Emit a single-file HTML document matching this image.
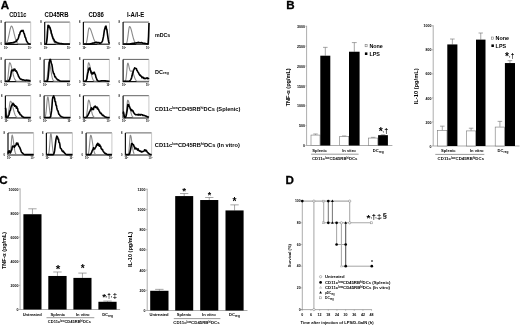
<!DOCTYPE html>
<html><head><meta charset="utf-8"><title>Figure</title>
<style>
html,body{margin:0;padding:0;background:#fff;}
body{width:520px;height:326px;overflow:hidden;}
svg{display:block;}
text{font-family:"Liberation Sans",Arial,sans-serif;fill:#000;}
.b{font-weight:bold;}
.pl{font-weight:bold;stroke:#000;stroke-width:0.3px;}
.t{font-weight:bold;fill:#000;}
</style></head>
<body>
<svg width="520" height="326" viewBox="0 0 520 326">
<rect width="520" height="326" fill="#fff"/>
<g id="A">
<text x="0.75" y="8.8" class="pl" font-size="11.6">A</text>
<text x="9.2" y="17.4" class="b" font-size="6.4" textLength="17.2" lengthAdjust="spacingAndGlyphs">CD11c</text>
<text x="44.6" y="17.4" class="b" font-size="6.4" textLength="23.9" lengthAdjust="spacingAndGlyphs">CD45RB</text>
<text x="88.5" y="17.4" class="b" font-size="6.4" textLength="15.3" lengthAdjust="spacingAndGlyphs">CD86</text>
<text x="126.9" y="17.4" class="b" font-size="6.4" textLength="17.4" lengthAdjust="spacingAndGlyphs">I-A/I-E</text>
<path d="M5.1 22.1H30.7" fill="none" stroke="#3a3a3a" stroke-width="0.8"/>
<path d="M30.7 22.1V44.3" fill="none" stroke="#bbb" stroke-width="0.8"/>
<path d="M5.1 22.1V44.3H30.7" fill="none" stroke="#111" stroke-width="1.2"/>
<path d="M5.1 43.97L5.42 43.93L5.74 43.75L6.06 43.5L6.38 43.16L6.7 42.7L7.02 42.11L7.34 41.37L7.66 40.46L7.98 39.38L8.3 38.13L8.62 36.72L8.94 35.19L9.26 33.58L9.58 31.97L9.9 30.41L10.22 28.99L10.54 27.78L10.86 26.87L11.18 26.29L11.5 26.1L11.82 26.24L12.14 26.66L12.46 27.33L12.78 28.24L13.1 29.33L13.42 30.56L13.74 31.89L14.06 33.26L14.38 34.63L14.7 35.97L15.02 37.23L15.34 38.39L15.66 39.44L15.98 40.36L16.3 41.16L16.62 41.84L16.94 42.4L17.26 42.85L17.58 43.22L17.9 43.5L18.22 43.72L18.54 43.89L18.86 43.97L19.18 43.97L19.5 43.97L19.82 43.97L20.14 43.97L20.46 43.97L20.78 43.97L21.1 43.97L21.42 43.97L21.74 43.97L22.06 43.97L22.38 43.97L22.7 43.97L23.02 43.97L23.34 43.97L23.66 43.97L23.98 43.97L24.3 43.97L24.62 43.97L24.94 43.97L25.26 43.97L25.58 43.97L25.9 43.97L26.22 43.97L26.54 43.97L26.86 43.97L27.18 43.97L27.5 43.97L27.82 43.97L28.14 43.97L28.46 43.97L28.78 43.97L29.1 43.97L29.42 43.97L29.74 43.97L30.06 43.97L30.38 43.97L30.7 43.97" fill="none" stroke="#8a8a8a" stroke-width="1.1" stroke-linejoin="round"/>
<path d="M5.1 43.8L5.53 43.73L5.95 43.66L6.38 43.59L6.81 43.51L7.23 43.44L7.66 43.41L8.09 43.39L8.51 43.15L8.94 43.28L9.37 43.04L9.79 43.04L10.22 43.1L10.65 42.86L11.07 43.02L11.5 42.79L11.93 42.92L12.35 42.87L12.78 42.66L13.21 42.4L13.63 42.71L14.06 42.58L14.49 42.23L14.91 41.86L15.34 41.87L15.77 41.7L16.19 40.78L16.62 41.2L17.05 39.63L17.47 39.64L17.9 39.08L18.33 38.25L18.75 36.83L19.18 34.59L19.61 34.88L20.03 32.91L20.46 31.8L20.89 31.54L21.31 30.5L21.74 31.16L22.17 31L22.59 30.81L23.02 30.27L23.45 31.69L23.87 33.06L24.3 33.78L24.73 35.49L25.15 37.26L25.58 37.65L26.01 39.16L26.43 40.84L26.86 41.42L27.29 42.23L27.71 42.68L28.14 43.22L28.57 43.62L28.99 43.86L29.42 43.97L29.85 43.97L30.27 43.97L30.7 43.97" fill="none" stroke="#000" stroke-width="1.6" stroke-linejoin="round"/>
<text x="0.6" y="23.1" class="t" font-size="2.6">8</text>
<text x="0.6" y="45.3" class="t" font-size="2.6">0</text>
<text x="4.1" y="48.5" class="t" font-size="2.6">10<tspan font-size="1.8" dy="-1">0</tspan></text>
<text x="27.7" y="48.5" class="t" font-size="2.6">10<tspan font-size="1.8" dy="-1">4</tspan></text>
<path d="M44.7 22.1H69.9" fill="none" stroke="#3a3a3a" stroke-width="0.8"/>
<path d="M69.9 22.1V44.3" fill="none" stroke="#bbb" stroke-width="0.8"/>
<path d="M44.7 22.1V44.3H69.9" fill="none" stroke="#111" stroke-width="1.2"/>
<path d="M44.7 43.97L45.02 43.97L45.33 43.97L45.65 43.97L45.96 43.76L46.28 42.8L46.59 40.79L46.91 37.38L47.22 32.85L47.54 28.38L47.85 25.69L48.17 25.47L48.48 25.69L48.8 26.11L49.11 26.71L49.43 27.48L49.74 28.38L50.06 29.4L50.37 30.51L50.69 31.67L51 32.85L51.32 34.04L51.63 35.21L51.95 36.33L52.26 37.38L52.58 38.36L52.89 39.26L53.21 40.07L53.52 40.79L53.84 41.41L54.15 41.95L54.47 42.41L54.78 42.8L55.1 43.12L55.41 43.38L55.73 43.59L56.04 43.76L56.36 43.89L56.67 43.97L56.99 43.97L57.3 43.97L57.62 43.97L57.93 43.97L58.25 43.97L58.56 43.97L58.88 43.97L59.19 43.97L59.51 43.97L59.82 43.97L60.14 43.97L60.45 43.97L60.77 43.97L61.08 43.97L61.4 43.97L61.71 43.97L62.03 43.97L62.34 43.97L62.66 43.97L62.97 43.97L63.29 43.97L63.6 43.97L63.92 43.97L64.23 43.97L64.55 43.97L64.86 43.97L65.18 43.97L65.49 43.97L65.81 43.97L66.12 43.97L66.44 43.97L66.75 43.97L67.06 43.97L67.38 43.97L67.7 43.97L68.01 43.97L68.33 43.97L68.64 43.97L68.96 43.97L69.27 43.97L69.59 43.97L69.9 43.97" fill="none" stroke="#8a8a8a" stroke-width="1.1" stroke-linejoin="round"/>
<path d="M44.7 43.97L45.12 43.97L45.54 43.97L45.96 43.97L46.38 43.3L46.8 40.52L47.22 37.27L47.64 30.44L48.06 25.22L48.48 26.11L48.9 25.71L49.32 27.41L49.74 27.01L50.16 28.04L50.58 29.88L51 30.72L51.42 33.5L51.84 34.14L52.26 35.76L52.68 37.07L53.1 38.43L53.52 38.8L53.94 39.55L54.36 40.8L54.78 41.15L55.2 42.06L55.62 41.91L56.04 42.21L56.46 42.23L56.88 42.5L57.3 42.89L57.72 42.95L58.14 42.94L58.56 43.27L58.98 43.2L59.4 43.37L59.82 43.46L60.24 43.43L60.66 43.51L61.08 43.59L61.5 43.66L61.92 43.73L62.34 43.8L62.76 43.86L63.18 43.91L63.6 43.96L64.02 43.97L64.44 43.97L64.86 43.97L65.28 43.97L65.7 43.97L66.12 43.97L66.54 43.97L66.96 43.97L67.38 43.97L67.8 43.97L68.22 43.97L68.64 43.97L69.06 43.97L69.48 43.97L69.9 43.97" fill="none" stroke="#000" stroke-width="1.6" stroke-linejoin="round"/>
<text x="40.2" y="23.1" class="t" font-size="2.6">8</text>
<text x="40.2" y="45.3" class="t" font-size="2.6">0</text>
<text x="43.7" y="48.5" class="t" font-size="2.6">10<tspan font-size="1.8" dy="-1">0</tspan></text>
<text x="66.9" y="48.5" class="t" font-size="2.6">10<tspan font-size="1.8" dy="-1">4</tspan></text>
<path d="M83.4 22.1H109.5" fill="none" stroke="#3a3a3a" stroke-width="0.8"/>
<path d="M109.5 22.1V44.3" fill="none" stroke="#bbb" stroke-width="0.8"/>
<path d="M83.4 22.1V44.3H109.5" fill="none" stroke="#111" stroke-width="1.2"/>
<path d="M83.4 43.97L83.73 43.97L84.05 43.97L84.38 43.97L84.71 43.97L85.03 43.97L85.36 43.97L85.68 43.81L86.01 43.38L86.34 42.67L86.66 41.6L86.99 40.09L87.31 38.13L87.64 35.82L87.97 33.34L88.29 31L88.62 29.14L88.95 28.06L89.27 27.89L89.6 28.05L89.93 28.38L90.25 28.87L90.58 29.51L90.9 30.28L91.23 31.15L91.56 32.09L91.88 33.1L92.21 34.13L92.53 35.16L92.86 36.18L93.19 37.17L93.51 38.1L93.84 38.97L94.17 39.76L94.49 40.48L94.82 41.12L95.15 41.68L95.47 42.17L95.8 42.58L96.12 42.93L96.45 43.22L96.78 43.46L97.1 43.65L97.43 43.8L97.76 43.93L98.08 43.97L98.41 43.97L98.73 43.97L99.06 43.97L99.39 43.97L99.71 43.97L100.04 43.97L100.37 43.97L100.69 43.97L101.02 43.97L101.34 43.97L101.67 43.97L102 43.97L102.32 43.97L102.65 43.97L102.97 43.97L103.3 43.97L103.63 43.97L103.95 43.97L104.28 43.97L104.61 43.97L104.93 43.97L105.26 43.97L105.59 43.97L105.91 43.97L106.24 43.97L106.56 43.97L106.89 43.97L107.22 43.97L107.54 43.97L107.87 43.97L108.19 43.97L108.52 43.97L108.85 43.97L109.17 43.97L109.5 43.97" fill="none" stroke="#8a8a8a" stroke-width="1.1" stroke-linejoin="round"/>
<path d="M83.4 43.97L83.84 43.97L84.27 43.97L84.71 43.97L85.14 43.97L85.58 43.97L86.01 43.97L86.45 43.97L86.88 43.97L87.31 43.97L87.75 43.97L88.19 43.97L88.62 43.97L89.06 43.97L89.49 43.93L89.93 43.86L90.36 43.77L90.8 43.67L91.23 43.57L91.67 43.46L92.1 43.47L92.53 43.14L92.97 43.24L93.41 43.09L93.84 42.92L94.28 42.61L94.71 42.89L95.15 42.65L95.58 42.54L96.02 42.33L96.45 42.35L96.89 42.34L97.32 42.68L97.76 42.66L98.19 42.76L98.62 42.59L99.06 42.66L99.5 43.09L99.93 43.14L100.37 43.13L100.8 43.06L101.23 42.73L101.67 42.21L102.11 41.69L102.54 40.91L102.97 38.83L103.41 36.92L103.84 34.11L104.28 30.75L104.72 29.02L105.15 27.6L105.59 26.34L106.02 26.19L106.45 28.99L106.89 29.73L107.33 33.2L107.76 36.15L108.19 39.21L108.63 41.67L109.06 42.9L109.5 43.6" fill="none" stroke="#000" stroke-width="1.6" stroke-linejoin="round"/>
<text x="78.9" y="23.1" class="t" font-size="2.6">8</text>
<text x="78.9" y="45.3" class="t" font-size="2.6">0</text>
<text x="82.4" y="48.5" class="t" font-size="2.6">10<tspan font-size="1.8" dy="-1">0</tspan></text>
<text x="106.5" y="48.5" class="t" font-size="2.6">10<tspan font-size="1.8" dy="-1">4</tspan></text>
<path d="M123.1 22.1H149" fill="none" stroke="#3a3a3a" stroke-width="0.8"/>
<path d="M149 22.1V44.3" fill="none" stroke="#bbb" stroke-width="0.8"/>
<path d="M123.1 22.1V44.3H149" fill="none" stroke="#111" stroke-width="1.2"/>
<path d="M123.1 43.97L123.42 43.97L123.75 43.97L124.07 43.97L124.39 43.97L124.72 43.97L125.04 43.97L125.37 43.97L125.69 43.97L126.01 43.9L126.34 43.52L126.66 42.89L126.98 41.9L127.31 40.46L127.63 38.53L127.96 36.17L128.28 33.53L128.6 30.89L128.93 28.63L129.25 27.09L129.57 26.54L129.9 26.68L130.22 27.09L130.55 27.75L130.87 28.63L131.19 29.69L131.52 30.89L131.84 32.19L132.16 33.53L132.49 34.87L132.81 36.17L133.14 37.4L133.46 38.53L133.78 39.56L134.11 40.46L134.43 41.24L134.75 41.9L135.08 42.44L135.4 42.89L135.73 43.24L136.05 43.52L136.37 43.73L136.7 43.9L137.02 43.97L137.34 43.97L137.67 43.97L137.99 43.97L138.32 43.97L138.64 43.97L138.96 43.97L139.29 43.97L139.61 43.97L139.94 43.97L140.26 43.97L140.58 43.97L140.91 43.97L141.23 43.97L141.55 43.97L141.88 43.97L142.2 43.97L142.53 43.97L142.85 43.97L143.17 43.97L143.5 43.97L143.82 43.97L144.14 43.97L144.47 43.97L144.79 43.97L145.12 43.97L145.44 43.97L145.76 43.97L146.09 43.97L146.41 43.97L146.73 43.97L147.06 43.97L147.38 43.97L147.7 43.97L148.03 43.97L148.35 43.97L148.68 43.97L149 43.97" fill="none" stroke="#8a8a8a" stroke-width="1.1" stroke-linejoin="round"/>
<path d="M123.1 43.97L123.53 43.97L123.96 43.97L124.39 43.97L124.83 43.97L125.26 43.97L125.69 43.97L126.12 43.97L126.55 43.97L126.98 43.97L127.42 43.97L127.85 43.97L128.28 43.97L128.71 43.97L129.14 43.97L129.57 43.92L130.01 43.86L130.44 43.79L130.87 43.72L131.3 43.65L131.73 43.57L132.16 43.49L132.6 43.51L133.03 43.27L133.46 43.36L133.89 43.28L134.32 43.15L134.75 43.1L135.19 42.95L135.62 43L136.05 42.97L136.48 42.84L136.91 42.82L137.34 42.65L137.78 42.8L138.21 42.33L138.64 42.46L139.07 42.72L139.5 42.68L139.94 42.66L140.37 42.69L140.8 42.86L141.23 42.57L141.66 42.58L142.09 42.89L142.53 42.97L142.96 43.2L143.39 43.27L143.82 43.27L144.25 43.38L144.68 43.31L145.12 43.49L145.55 43.57L145.98 43.65L146.41 43.72L146.84 43.79L147.27 43.86L147.7 43.91L148.14 43.5L148.57 36.31L149 22.92" fill="none" stroke="#000" stroke-width="1.6" stroke-linejoin="round"/>
<text x="118.6" y="23.1" class="t" font-size="2.6">8</text>
<text x="118.6" y="45.3" class="t" font-size="2.6">0</text>
<text x="122.1" y="48.5" class="t" font-size="2.6">10<tspan font-size="1.8" dy="-1">0</tspan></text>
<text x="146" y="48.5" class="t" font-size="2.6">10<tspan font-size="1.8" dy="-1">4</tspan></text>
<path d="M5.1 59.4H30.5" fill="none" stroke="#3a3a3a" stroke-width="0.8"/>
<path d="M30.5 59.4V81.6" fill="none" stroke="#bbb" stroke-width="0.8"/>
<path d="M5.1 59.4V81.6H30.5" fill="none" stroke="#111" stroke-width="1.2"/>
<path d="M5.1 81.27L5.42 81.27L5.73 81.27L6.05 81.27L6.37 81.27L6.69 81.27L7 81L7.32 80.3L7.64 79.05L7.96 77.06L8.27 74.27L8.59 70.87L8.91 67.36L9.23 64.45L9.54 62.88L9.86 62.78L10.18 63.1L10.5 63.7L10.81 64.55L11.13 65.61L11.45 66.83L11.77 68.17L12.09 69.58L12.4 71.01L12.72 72.41L13.04 73.76L13.35 75L13.67 76.14L13.99 77.15L14.31 78.03L14.62 78.78L14.94 79.41L15.26 79.92L15.58 80.34L15.89 80.66L16.21 80.91L16.53 81.11L16.85 81.25L17.16 81.27L17.48 81.27L17.8 81.27L18.12 81.27L18.43 81.27L18.75 81.27L19.07 81.27L19.39 81.27L19.7 81.27L20.02 81.27L20.34 81.27L20.66 81.27L20.98 81.27L21.29 81.27L21.61 81.27L21.93 81.27L22.24 81.27L22.56 81.27L22.88 81.27L23.2 81.27L23.52 81.27L23.83 81.27L24.15 81.27L24.47 81.27L24.78 81.27L25.1 81.27L25.42 81.27L25.74 81.27L26.05 81.27L26.37 81.27L26.69 81.27L27.01 81.27L27.32 81.27L27.64 81.27L27.96 81.27L28.28 81.27L28.59 81.27L28.91 81.27L29.23 81.27L29.55 81.27L29.86 81.27L30.18 81.27L30.5 81.27" fill="none" stroke="#8a8a8a" stroke-width="1.1" stroke-linejoin="round"/>
<path d="M5.1 81.27L5.52 81.27L5.95 81.27L6.37 81.27L6.79 81.27L7.22 81.27L7.64 81.27L8.06 81.27L8.49 81.06L8.91 80.44L9.33 79.79L9.76 78.99L10.18 77.14L10.6 76.33L11.03 73.59L11.45 70.98L11.87 70.1L12.3 69.97L12.72 70.73L13.14 70.35L13.57 70.66L13.99 69.18L14.41 69.59L14.84 69.06L15.26 70.31L15.68 71.16L16.11 70.75L16.53 71.27L16.95 72.44L17.38 73.4L17.8 74.25L18.22 75.22L18.65 76.79L19.07 76.98L19.49 77.77L19.92 78.61L20.34 79L20.76 79.12L21.19 79.44L21.61 79.4L22.03 79.46L22.46 79.9L22.88 79.77L23.3 79.84L23.73 79.92L24.15 80.22L24.57 80.3L25 80.32L25.42 80.35L25.84 80.36L26.27 80.22L26.69 80.14L27.11 80.2L27.54 80.38L27.96 80.37L28.38 80.37L28.81 80.67L29.23 80.55L29.65 80.54L30.08 80.72L30.5 80.79" fill="none" stroke="#000" stroke-width="1.6" stroke-linejoin="round"/>
<text x="0.6" y="60.4" class="t" font-size="2.6">8</text>
<text x="0.6" y="82.6" class="t" font-size="2.6">0</text>
<text x="4.1" y="85.8" class="t" font-size="2.6">10<tspan font-size="1.8" dy="-1">0</tspan></text>
<text x="27.5" y="85.8" class="t" font-size="2.6">10<tspan font-size="1.8" dy="-1">4</tspan></text>
<path d="M44.1 59.4H69.9" fill="none" stroke="#3a3a3a" stroke-width="0.8"/>
<path d="M69.9 59.4V81.6" fill="none" stroke="#bbb" stroke-width="0.8"/>
<path d="M44.1 59.4V81.6H69.9" fill="none" stroke="#111" stroke-width="1.2"/>
<path d="M44.1 81.27L44.42 81.27L44.75 81.27L45.07 81.27L45.39 81.27L45.71 81.27L46.04 81.27L46.36 80.87L46.68 80.05L47 78.61L47.33 76.38L47.65 73.34L47.97 69.75L48.29 66.18L48.62 63.39L48.94 62.1L49.26 62.26L49.58 63.05L49.91 64.36L50.23 66.08L50.55 68.07L50.87 70.17L51.2 72.25L51.52 74.19L51.84 75.92L52.16 77.38L52.48 78.56L52.81 79.48L53.13 80.17L53.45 80.66L53.78 81.01L54.1 81.24L54.42 81.27L54.74 81.27L55.07 81.27L55.39 81.27L55.71 81.27L56.03 81.27L56.36 81.27L56.68 81.27L57 81.27L57.32 81.27L57.65 81.27L57.97 81.27L58.29 81.27L58.61 81.27L58.94 81.27L59.26 81.27L59.58 81.27L59.9 81.27L60.23 81.27L60.55 81.27L60.87 81.27L61.19 81.27L61.52 81.27L61.84 81.27L62.16 81.27L62.48 81.27L62.81 81.27L63.13 81.27L63.45 81.27L63.77 81.27L64.09 81.27L64.42 81.27L64.74 81.27L65.06 81.27L65.39 81.27L65.71 81.27L66.03 81.27L66.35 81.27L66.68 81.27L67 81.27L67.32 81.27L67.64 81.27L67.97 81.27L68.29 81.27L68.61 81.27L68.93 81.27L69.26 81.27L69.58 81.27L69.9 81.27" fill="none" stroke="#8a8a8a" stroke-width="1.1" stroke-linejoin="round"/>
<path d="M44.1 81.27L44.53 81.27L44.96 81.27L45.39 81.27L45.82 81.27L46.25 81.27L46.68 81.27L47.11 81.27L47.54 80.43L47.97 78.37L48.4 74.82L48.83 69.81L49.26 62.59L49.69 60.36L50.12 59.4L50.55 59.52L50.98 62.03L51.41 63.67L51.84 64.38L52.27 66.9L52.7 70.12L53.13 72.06L53.56 73.63L53.99 73.36L54.42 74.85L54.85 76.92L55.28 76.69L55.71 77.19L56.14 78.1L56.57 78.82L57 79.04L57.43 79.67L57.86 80.02L58.29 79.83L58.72 80.26L59.15 80.55L59.58 80.77L60.01 80.95L60.44 81.1L60.87 81.22L61.3 81.27L61.73 81.27L62.16 81.27L62.59 81.27L63.02 81.27L63.45 81.27L63.88 81.27L64.31 81.27L64.74 81.27L65.17 81.27L65.6 81.27L66.03 81.27L66.46 81.27L66.89 81.27L67.32 81.27L67.75 81.27L68.18 81.27L68.61 81.27L69.04 81.27L69.47 81.27L69.9 81.27" fill="none" stroke="#000" stroke-width="1.6" stroke-linejoin="round"/>
<text x="39.6" y="60.4" class="t" font-size="2.6">8</text>
<text x="39.6" y="82.6" class="t" font-size="2.6">0</text>
<text x="43.1" y="85.8" class="t" font-size="2.6">10<tspan font-size="1.8" dy="-1">0</tspan></text>
<text x="66.9" y="85.8" class="t" font-size="2.6">10<tspan font-size="1.8" dy="-1">4</tspan></text>
<path d="M83.4 59.4H109.4" fill="none" stroke="#3a3a3a" stroke-width="0.8"/>
<path d="M109.4 59.4V81.6" fill="none" stroke="#bbb" stroke-width="0.8"/>
<path d="M83.4 59.4V81.6H109.4" fill="none" stroke="#111" stroke-width="1.2"/>
<path d="M83.4 81.27L83.73 81.27L84.05 81.27L84.38 81.27L84.7 81.27L85.03 81.27L85.35 81.27L85.68 81.24L86 80.77L86.33 79.88L86.65 78.35L86.98 76.03L87.3 72.96L87.62 69.44L87.95 66.08L88.28 63.63L88.6 62.73L88.93 62.96L89.25 63.63L89.58 64.69L89.9 66.08L90.23 67.69L90.55 69.44L90.88 71.22L91.2 72.96L91.53 74.58L91.85 76.03L92.18 77.29L92.5 78.35L92.83 79.2L93.15 79.88L93.48 80.39L93.8 80.77L94.12 81.05L94.45 81.24L94.78 81.27L95.1 81.27L95.43 81.27L95.75 81.27L96.08 81.27L96.4 81.27L96.73 81.27L97.05 81.27L97.38 81.27L97.7 81.27L98.03 81.27L98.35 81.27L98.68 81.27L99 81.27L99.33 81.27L99.65 81.27L99.98 81.27L100.3 81.27L100.62 81.27L100.95 81.27L101.28 81.27L101.6 81.27L101.93 81.27L102.25 81.27L102.58 81.27L102.9 81.27L103.23 81.27L103.55 81.27L103.88 81.27L104.2 81.27L104.53 81.27L104.85 81.27L105.18 81.27L105.5 81.27L105.83 81.27L106.15 81.27L106.48 81.27L106.8 81.27L107.12 81.27L107.45 81.27L107.78 81.27L108.1 81.27L108.43 81.27L108.75 81.27L109.08 81.27L109.4 81.27" fill="none" stroke="#8a8a8a" stroke-width="1.1" stroke-linejoin="round"/>
<path d="M83.4 81.27L83.83 81.27L84.27 81.27L84.7 81.27L85.13 81.27L85.57 81.26L86 80.83L86.43 79.78L86.87 78.65L87.3 75.98L87.73 73.25L88.17 71.89L88.6 69.51L89.03 68.14L89.47 68.14L89.9 68.06L90.33 70.02L90.77 71.09L91.2 73.02L91.63 72.23L92.07 73.97L92.5 73.86L92.93 73.45L93.37 72.5L93.8 73.36L94.23 72.18L94.67 73.34L95.1 74.07L95.53 75.3L95.97 77.44L96.4 78.16L96.83 79.46L97.27 80.32L97.7 80.59L98.13 81.01L98.57 81.17L99 81.22L99.43 81.2L99.87 81.14L100.3 81.06L100.73 80.97L101.17 80.89L101.6 80.82L102.03 80.76L102.47 80.72L102.9 80.8L103.33 80.72L103.77 80.73L104.2 80.76L104.63 80.8L105.07 80.84L105.5 80.89L105.93 80.94L106.37 81L106.8 81.06L107.23 81.12L107.67 81.18L108.1 81.23L108.53 81.27L108.97 81.27L109.4 81.27" fill="none" stroke="#000" stroke-width="1.6" stroke-linejoin="round"/>
<text x="78.9" y="60.4" class="t" font-size="2.6">8</text>
<text x="78.9" y="82.6" class="t" font-size="2.6">0</text>
<text x="82.4" y="85.8" class="t" font-size="2.6">10<tspan font-size="1.8" dy="-1">0</tspan></text>
<text x="106.4" y="85.8" class="t" font-size="2.6">10<tspan font-size="1.8" dy="-1">4</tspan></text>
<path d="M123.1 59.4H148.9" fill="none" stroke="#3a3a3a" stroke-width="0.8"/>
<path d="M148.9 59.4V81.6" fill="none" stroke="#bbb" stroke-width="0.8"/>
<path d="M123.1 59.4V81.6H148.9" fill="none" stroke="#111" stroke-width="1.2"/>
<path d="M123.1 81.27L123.42 81.27L123.74 81.27L124.07 81.27L124.39 81.27L124.71 81.27L125.03 81.27L125.36 81.04L125.68 80.26L126 78.76L126.32 76.29L126.65 72.86L126.97 68.93L127.29 65.41L127.61 63.35L127.94 63.14L128.26 63.72L128.58 64.84L128.91 66.27L129.23 67.78L129.55 69.14L129.87 70.19L130.19 70.85L130.52 71.13L130.84 71.14L131.16 71.02L131.48 70.94L131.81 71.04L132.13 71.36L132.45 71.82L132.78 72.43L133.1 73.18L133.42 74.04L133.74 74.96L134.06 75.91L134.39 76.84L134.71 77.72L135.03 78.51L135.35 79.19L135.68 79.77L136 80.25L136.32 80.62L136.65 80.91L136.97 81.13L137.29 81.27L137.61 81.27L137.94 81.27L138.26 81.27L138.58 81.27L138.9 81.27L139.22 81.27L139.55 81.27L139.87 81.27L140.19 81.27L140.52 81.27L140.84 81.27L141.16 81.27L141.48 81.27L141.81 81.27L142.13 81.27L142.45 81.27L142.77 81.27L143.09 81.27L143.42 81.27L143.74 81.27L144.06 81.27L144.38 81.27L144.71 81.27L145.03 81.27L145.35 81.27L145.68 81.27L146 81.27L146.32 81.27L146.64 81.27L146.97 81.27L147.29 81.27L147.61 81.27L147.93 81.27L148.25 81.27L148.58 81.27L148.9 81.27" fill="none" stroke="#8a8a8a" stroke-width="1.1" stroke-linejoin="round"/>
<path d="M123.1 81.27L123.53 81.27L123.96 81.27L124.39 81.27L124.82 81.27L125.25 81.27L125.68 81.27L126.11 81.27L126.54 81.27L126.97 81.27L127.4 81.27L127.83 81.27L128.26 81.27L128.69 81.27L129.12 81.16L129.55 80.97L129.98 80.68L130.41 80.11L130.84 79.46L131.27 78.67L131.7 77.19L132.13 75.54L132.56 73.23L132.99 72.92L133.42 70.27L133.85 69.7L134.28 68.95L134.71 67.74L135.14 68.42L135.57 68.55L136 68.52L136.43 68.7L136.86 70.37L137.29 70.7L137.72 71.68L138.15 72.44L138.58 72.8L139.01 74.07L139.44 74.58L139.87 75.32L140.3 75.08L140.73 76.02L141.16 76.21L141.59 76.51L142.02 77.69L142.45 77.54L142.88 77.27L143.31 77.53L143.74 78.39L144.17 78.47L144.6 78.18L145.03 78.59L145.46 78.44L145.89 78.63L146.32 78.04L146.75 77.96L147.18 77.9L147.61 78.69L148.04 78.23L148.47 78.39L148.9 78.97" fill="none" stroke="#000" stroke-width="1.6" stroke-linejoin="round"/>
<text x="118.6" y="60.4" class="t" font-size="2.6">8</text>
<text x="118.6" y="82.6" class="t" font-size="2.6">0</text>
<text x="122.1" y="85.8" class="t" font-size="2.6">10<tspan font-size="1.8" dy="-1">0</tspan></text>
<text x="145.9" y="85.8" class="t" font-size="2.6">10<tspan font-size="1.8" dy="-1">4</tspan></text>
<path d="M5.4 95.7H30.7" fill="none" stroke="#3a3a3a" stroke-width="0.8"/>
<path d="M30.7 95.7V117.8" fill="none" stroke="#bbb" stroke-width="0.8"/>
<path d="M5.4 95.7V117.8H30.7" fill="none" stroke="#111" stroke-width="1.2"/>
<path d="M5.4 117.47L5.72 117.47L6.03 117.47L6.35 117.47L6.67 117.47L6.98 117.42L7.3 117.07L7.61 116.48L7.93 115.56L8.25 114.22L8.56 112.42L8.88 110.21L9.2 107.75L9.51 105.29L9.83 103.17L10.14 101.73L10.46 101.22L10.78 101.35L11.09 101.73L11.41 102.35L11.72 103.17L12.04 104.17L12.36 105.29L12.67 106.5L12.99 107.75L13.31 109L13.62 110.21L13.94 111.36L14.25 112.42L14.57 113.37L14.89 114.22L15.2 114.94L15.52 115.56L15.84 116.07L16.15 116.48L16.47 116.81L16.79 117.07L17.1 117.27L17.42 117.42L17.73 117.47L18.05 117.47L18.37 117.47L18.68 117.47L19 117.47L19.31 117.47L19.63 117.47L19.95 117.47L20.26 117.47L20.58 117.47L20.9 117.47L21.21 117.47L21.53 117.47L21.84 117.47L22.16 117.47L22.48 117.47L22.79 117.47L23.11 117.47L23.43 117.47L23.74 117.47L24.06 117.47L24.38 117.47L24.69 117.47L25.01 117.47L25.32 117.47L25.64 117.47L25.96 117.47L26.27 117.47L26.59 117.47L26.9 117.47L27.22 117.47L27.54 117.47L27.85 117.47L28.17 117.47L28.49 117.47L28.8 117.47L29.12 117.47L29.43 117.47L29.75 117.47L30.07 117.47L30.38 117.47L30.7 117.47" fill="none" stroke="#8a8a8a" stroke-width="1.1" stroke-linejoin="round"/>
<path d="M5.4 107.84L5.82 108.92L6.24 117.47L6.67 117.47L7.09 117.41L7.51 117.13L7.93 116.8L8.35 115.86L8.77 115.33L9.2 114.15L9.62 112.04L10.04 110.53L10.46 110.23L10.88 107.91L11.3 106.15L11.72 105.27L12.15 104.74L12.57 104.12L12.99 103.21L13.41 104.97L13.83 104.14L14.25 104.82L14.68 106.19L15.1 105.93L15.52 105.72L15.94 106.47L16.36 108.09L16.79 106.87L17.21 108.2L17.63 108.64L18.05 111.37L18.47 111.74L18.89 112.83L19.31 112.33L19.74 113.74L20.16 114.5L20.58 114.76L21 114.91L21.42 115.51L21.84 116.25L22.27 116.63L22.69 116.67L23.11 117.04L23.53 117.24L23.95 117.39L24.38 117.47L24.8 117.47L25.22 117.47L25.64 117.47L26.06 117.47L26.48 117.47L26.9 117.47L27.33 117.47L27.75 117.47L28.17 117.47L28.59 117.47L29.01 117.47L29.43 117.47L29.86 117.47L30.28 117.47L30.7 117.47" fill="none" stroke="#000" stroke-width="1.6" stroke-linejoin="round"/>
<text x="0.9" y="96.7" class="t" font-size="2.6">8</text>
<text x="0.9" y="118.8" class="t" font-size="2.6">0</text>
<text x="4.4" y="122" class="t" font-size="2.6">10<tspan font-size="1.8" dy="-1">0</tspan></text>
<text x="27.7" y="122" class="t" font-size="2.6">10<tspan font-size="1.8" dy="-1">4</tspan></text>
<path d="M44.1 95.7H70.4" fill="none" stroke="#3a3a3a" stroke-width="0.8"/>
<path d="M70.4 95.7V117.8" fill="none" stroke="#bbb" stroke-width="0.8"/>
<path d="M44.1 95.7V117.8H70.4" fill="none" stroke="#111" stroke-width="1.2"/>
<path d="M44.1 117.47L44.43 117.47L44.76 117.46L45.09 117.01L45.41 116.13L45.74 114.59L46.07 112.19L46.4 108.93L46.73 105.07L47.06 101.22L47.39 98.23L47.72 96.85L48.05 97.22L48.37 98.83L48.7 101.37L49.03 104.43L49.36 107.58L49.69 110.46L50.02 112.85L50.35 114.66L50.68 115.93L51 116.76L51.33 117.25L51.66 117.47L51.99 117.47L52.32 117.47L52.65 117.47L52.98 117.47L53.3 117.47L53.63 117.47L53.96 117.47L54.29 117.47L54.62 117.47L54.95 117.47L55.28 117.47L55.61 117.47L55.94 117.47L56.26 117.47L56.59 117.47L56.92 117.47L57.25 117.47L57.58 117.47L57.91 117.47L58.24 117.47L58.57 117.47L58.89 117.47L59.22 117.47L59.55 117.47L59.88 117.47L60.21 117.47L60.54 117.47L60.87 117.47L61.2 117.47L61.52 117.47L61.85 117.47L62.18 117.47L62.51 117.47L62.84 117.47L63.17 117.47L63.5 117.47L63.83 117.47L64.15 117.47L64.48 117.47L64.81 117.47L65.14 117.47L65.47 117.47L65.8 117.47L66.13 117.47L66.46 117.47L66.78 117.47L67.11 117.47L67.44 117.47L67.77 117.47L68.1 117.47L68.43 117.47L68.76 117.47L69.09 117.47L69.41 117.47L69.74 117.47L70.07 117.47L70.4 117.47" fill="none" stroke="#8a8a8a" stroke-width="1.1" stroke-linejoin="round"/>
<path d="M44.1 117.47L44.54 117.47L44.98 117.47L45.41 117.47L45.85 117.47L46.29 117.47L46.73 117.47L47.17 117.47L47.61 117.47L48.05 117.47L48.48 117.47L48.92 117.47L49.36 117.47L49.8 117.47L50.24 117.14L50.68 116.01L51.11 113.56L51.55 110.92L51.99 105.95L52.43 99.55L52.87 97.03L53.3 97.43L53.74 95.91L54.18 97.45L54.62 98.36L55.06 101.53L55.5 101.59L55.94 105.19L56.37 105.28L56.81 107.93L57.25 109.79L57.69 110.75L58.13 111.34L58.57 113.43L59 114.38L59.44 114.63L59.88 115.43L60.32 115.95L60.76 116.26L61.2 116.6L61.63 116.79L62.07 116.92L62.51 117.11L62.95 117.26L63.39 117.39L63.83 117.47L64.26 117.47L64.7 117.47L65.14 117.47L65.58 117.47L66.02 117.47L66.46 117.47L66.89 117.47L67.33 117.47L67.77 117.47L68.21 117.47L68.65 117.47L69.09 117.47L69.52 117.47L69.96 117.47L70.4 117.47" fill="none" stroke="#000" stroke-width="1.6" stroke-linejoin="round"/>
<text x="39.6" y="96.7" class="t" font-size="2.6">8</text>
<text x="39.6" y="118.8" class="t" font-size="2.6">0</text>
<text x="43.1" y="122" class="t" font-size="2.6">10<tspan font-size="1.8" dy="-1">0</tspan></text>
<text x="67.4" y="122" class="t" font-size="2.6">10<tspan font-size="1.8" dy="-1">4</tspan></text>
<path d="M83.4 95.7H109.6" fill="none" stroke="#3a3a3a" stroke-width="0.8"/>
<path d="M109.6 95.7V117.8" fill="none" stroke="#bbb" stroke-width="0.8"/>
<path d="M83.4 95.7V117.8H109.6" fill="none" stroke="#111" stroke-width="1.2"/>
<path d="M83.4 117.47L83.73 117.47L84.06 117.47L84.38 117.47L84.71 117.47L85.04 117.47L85.37 117.47L85.69 117.46L86.02 117.02L86.35 116.18L86.68 114.75L87 112.58L87.33 109.71L87.66 106.41L87.98 103.26L88.31 100.96L88.64 100.12L88.97 100.33L89.3 100.96L89.62 101.96L89.95 103.26L90.28 104.77L90.61 106.41L90.93 108.08L91.26 109.71L91.59 111.22L91.92 112.58L92.24 113.76L92.57 114.75L92.9 115.55L93.22 116.18L93.55 116.67L93.88 117.02L94.21 117.28L94.53 117.46L94.86 117.47L95.19 117.47L95.52 117.47L95.84 117.47L96.17 117.47L96.5 117.47L96.83 117.47L97.16 117.47L97.48 117.47L97.81 117.47L98.14 117.47L98.47 117.47L98.79 117.47L99.12 117.47L99.45 117.47L99.78 117.47L100.1 117.47L100.43 117.47L100.76 117.47L101.09 117.47L101.41 117.47L101.74 117.47L102.07 117.47L102.39 117.47L102.72 117.47L103.05 117.47L103.38 117.47L103.7 117.47L104.03 117.47L104.36 117.47L104.69 117.47L105.01 117.47L105.34 117.47L105.67 117.47L106 117.47L106.32 117.47L106.65 117.47L106.98 117.47L107.31 117.47L107.63 117.47L107.96 117.47L108.29 117.47L108.62 117.47L108.94 117.47L109.27 117.47L109.6 117.47" fill="none" stroke="#8a8a8a" stroke-width="1.1" stroke-linejoin="round"/>
<path d="M83.4 117.47L83.84 117.47L84.27 117.47L84.71 117.47L85.15 117.47L85.58 117.47L86.02 117.39L86.46 117.13L86.89 116.8L87.33 116.29L87.77 115.31L88.2 114.8L88.64 113.55L89.08 112.93L89.51 111.54L89.95 111.22L90.39 109.82L90.82 109.71L91.26 107.79L91.7 108.25L92.13 109.44L92.57 109.2L93.01 108.21L93.44 109.55L93.88 107.08L94.32 107.03L94.75 106.51L95.19 106.06L95.63 107.35L96.06 107.39L96.5 107.31L96.94 107.03L97.37 108.87L97.81 108.26L98.25 109.06L98.68 109.77L99.12 110.86L99.56 111.55L99.99 112.64L100.43 113.03L100.87 113.62L101.3 113.24L101.74 114.34L102.18 114.87L102.61 115.34L103.05 115.15L103.49 115.53L103.92 115.99L104.36 116.46L104.8 116.7L105.23 116.89L105.67 117.01L106.11 117.16L106.54 117.29L106.98 117.39L107.42 117.47L107.85 117.47L108.29 117.47L108.73 117.47L109.16 117.47L109.6 117.47" fill="none" stroke="#000" stroke-width="1.6" stroke-linejoin="round"/>
<text x="78.9" y="96.7" class="t" font-size="2.6">8</text>
<text x="78.9" y="118.8" class="t" font-size="2.6">0</text>
<text x="82.4" y="122" class="t" font-size="2.6">10<tspan font-size="1.8" dy="-1">0</tspan></text>
<text x="106.6" y="122" class="t" font-size="2.6">10<tspan font-size="1.8" dy="-1">4</tspan></text>
<path d="M123.1 95.7H148.9" fill="none" stroke="#3a3a3a" stroke-width="0.8"/>
<path d="M148.9 95.7V117.8" fill="none" stroke="#bbb" stroke-width="0.8"/>
<path d="M123.1 95.7V117.8H148.9" fill="none" stroke="#111" stroke-width="1.2"/>
<path d="M123.1 117.47L123.42 117.47L123.74 117.47L124.07 117.47L124.39 117.47L124.71 117.47L125.03 117.47L125.36 117.26L125.68 116.5L126 115.05L126.32 112.66L126.65 109.34L126.97 105.56L127.29 102.2L127.61 100.3L127.94 100.2L128.26 100.66L128.58 101.52L128.91 102.71L129.23 104.14L129.55 105.74L129.87 107.41L130.19 109.06L130.52 110.63L130.84 112.06L131.16 113.31L131.48 114.38L131.81 115.25L132.13 115.95L132.45 116.49L132.78 116.89L133.1 117.19L133.42 117.4L133.74 117.47L134.06 117.47L134.39 117.47L134.71 117.47L135.03 117.47L135.35 117.47L135.68 117.47L136 117.47L136.32 117.47L136.65 117.47L136.97 117.47L137.29 117.47L137.61 117.47L137.94 117.47L138.26 117.47L138.58 117.47L138.9 117.47L139.22 117.47L139.55 117.47L139.87 117.47L140.19 117.47L140.52 117.47L140.84 117.47L141.16 117.47L141.48 117.47L141.81 117.47L142.13 117.47L142.45 117.47L142.77 117.47L143.09 117.47L143.42 117.47L143.74 117.47L144.06 117.47L144.38 117.47L144.71 117.47L145.03 117.47L145.35 117.47L145.68 117.47L146 117.47L146.32 117.47L146.64 117.47L146.97 117.47L147.29 117.47L147.61 117.47L147.93 117.47L148.25 117.47L148.58 117.47L148.9 117.47" fill="none" stroke="#8a8a8a" stroke-width="1.1" stroke-linejoin="round"/>
<path d="M123.1 113.72L123.53 112.06L123.96 114.35L124.39 116.79L124.82 117.43L125.25 117.37L125.68 116.96L126.11 115.77L126.54 113.73L126.97 111.42L127.4 108.83L127.83 104.47L128.26 104.76L128.69 104.88L129.12 106.46L129.55 106.78L129.98 107.79L130.41 108.72L130.84 109.99L131.27 109.53L131.7 110.63L132.13 110.11L132.56 110.83L132.99 110.73L133.42 112.18L133.85 112.96L134.28 113.29L134.71 114.06L135.14 114.2L135.57 114.62L136 114.63L136.43 114.8L136.86 114.75L137.29 114.58L137.72 114.96L138.15 114.96L138.58 114.32L139.01 115.06L139.44 114.51L139.87 114.57L140.3 115.14L140.73 114.44L141.16 114.45L141.59 114.76L142.02 114.76L142.45 114.81L142.88 115.47L143.31 115.3L143.74 115.46L144.17 115.39L144.6 115.58L145.03 115.74L145.46 116.04L145.89 116.05L146.32 116.31L146.75 116.45L147.18 116.76L147.61 116.94L148.04 116.92L148.47 117.03L148.9 117.13" fill="none" stroke="#000" stroke-width="1.6" stroke-linejoin="round"/>
<text x="118.6" y="96.7" class="t" font-size="2.6">8</text>
<text x="118.6" y="118.8" class="t" font-size="2.6">0</text>
<text x="122.1" y="122" class="t" font-size="2.6">10<tspan font-size="1.8" dy="-1">0</tspan></text>
<text x="145.9" y="122" class="t" font-size="2.6">10<tspan font-size="1.8" dy="-1">4</tspan></text>
<path d="M8 132.9H33.6" fill="none" stroke="#3a3a3a" stroke-width="0.8"/>
<path d="M33.6 132.9V155" fill="none" stroke="#bbb" stroke-width="0.8"/>
<path d="M8 132.9V155H33.6" fill="none" stroke="#111" stroke-width="1.2"/>
<path d="M8 154.67L8.32 154.67L8.64 154.67L8.96 154.67L9.28 154.67L9.6 154.67L9.92 154.64L10.24 153.93L10.56 152.31L10.88 149.32L11.2 144.93L11.52 139.99L11.84 136.18L12.16 135.13L12.48 135.72L12.8 137.09L13.12 139.07L13.44 141.44L13.76 143.94L14.08 146.36L14.4 148.54L14.72 150.38L15.04 151.83L15.36 152.92L15.68 153.69L16 154.21L16.32 154.55L16.64 154.67L16.96 154.67L17.28 154.67L17.6 154.67L17.92 154.67L18.24 154.67L18.56 154.67L18.88 154.67L19.2 154.67L19.52 154.67L19.84 154.67L20.16 154.67L20.48 154.67L20.8 154.67L21.12 154.67L21.44 154.67L21.76 154.67L22.08 154.67L22.4 154.67L22.72 154.67L23.04 154.67L23.36 154.67L23.68 154.67L24 154.67L24.32 154.67L24.64 154.67L24.96 154.67L25.28 154.67L25.6 154.67L25.92 154.67L26.24 154.67L26.56 154.67L26.88 154.67L27.2 154.67L27.52 154.67L27.84 154.67L28.16 154.67L28.48 154.67L28.8 154.67L29.12 154.67L29.44 154.67L29.76 154.67L30.08 154.67L30.4 154.67L30.72 154.67L31.04 154.67L31.36 154.67L31.68 154.67L32 154.67L32.32 154.67L32.64 154.67L32.96 154.67L33.28 154.67L33.6 154.67" fill="none" stroke="#8a8a8a" stroke-width="1.1" stroke-linejoin="round"/>
<path d="M8 153.71L8.43 151.57L8.85 151.04L9.28 150.84L9.71 152.32L10.13 152.92L10.56 152.65L10.99 151.55L11.41 150.31L11.84 149.7L12.27 146.84L12.69 146.15L13.12 146.39L13.55 146.35L13.97 146.17L14.4 147.37L14.83 145.45L15.25 145.82L15.68 145.43L16.11 144.35L16.53 142.98L16.96 144.18L17.39 143.25L17.81 143.18L18.24 144.87L18.67 145.89L19.09 146.55L19.52 147.04L19.95 147.89L20.37 149.17L20.8 150.07L21.23 151.6L21.65 152.19L22.08 152.7L22.51 152.93L22.93 153.62L23.36 153.88L23.79 154.19L24.21 154.42L24.64 154.59L25.07 154.67L25.49 154.67L25.92 154.67L26.35 154.67L26.77 154.67L27.2 154.67L27.63 154.67L28.05 154.67L28.48 154.67L28.91 154.67L29.33 154.67L29.76 154.67L30.19 154.67L30.61 154.67L31.04 154.67L31.47 154.67L31.89 154.67L32.32 154.67L32.75 154.67L33.17 154.67L33.6 154.67" fill="none" stroke="#000" stroke-width="1.6" stroke-linejoin="round"/>
<text x="3.5" y="133.9" class="t" font-size="2.6">8</text>
<text x="3.5" y="156" class="t" font-size="2.6">0</text>
<text x="7" y="159.2" class="t" font-size="2.6">10<tspan font-size="1.8" dy="-1">0</tspan></text>
<text x="30.6" y="159.2" class="t" font-size="2.6">10<tspan font-size="1.8" dy="-1">4</tspan></text>
<path d="M46.4 132.9H72.4" fill="none" stroke="#3a3a3a" stroke-width="0.8"/>
<path d="M72.4 132.9V155" fill="none" stroke="#bbb" stroke-width="0.8"/>
<path d="M46.4 132.9V155H72.4" fill="none" stroke="#111" stroke-width="1.2"/>
<path d="M46.4 154.67L46.73 154.67L47.05 154.67L47.38 154.67L47.7 154.67L48.02 154.67L48.35 154.46L48.67 153.65L49 152.07L49.33 149.38L49.65 145.52L49.98 140.93L50.3 136.6L50.62 133.83L50.95 133.48L51.27 134.92L51.6 137.66L51.92 141.13L52.25 144.74L52.58 147.97L52.9 150.54L53.23 152.38L53.55 153.58L53.88 154.28L54.2 154.67L54.52 154.67L54.85 154.67L55.17 154.67L55.5 154.67L55.83 154.67L56.15 154.67L56.48 154.67L56.8 154.67L57.12 154.67L57.45 154.67L57.78 154.67L58.1 154.67L58.43 154.67L58.75 154.67L59.08 154.67L59.4 154.67L59.73 154.67L60.05 154.67L60.38 154.67L60.7 154.67L61.03 154.67L61.35 154.67L61.68 154.67L62 154.67L62.33 154.67L62.65 154.67L62.98 154.67L63.3 154.67L63.62 154.67L63.95 154.67L64.28 154.67L64.6 154.67L64.93 154.67L65.25 154.67L65.58 154.67L65.9 154.67L66.22 154.67L66.55 154.67L66.88 154.67L67.2 154.67L67.53 154.67L67.85 154.67L68.18 154.67L68.5 154.67L68.83 154.67L69.15 154.67L69.48 154.67L69.8 154.67L70.12 154.67L70.45 154.67L70.78 154.67L71.1 154.67L71.43 154.67L71.75 154.67L72.08 154.67L72.4 154.67" fill="none" stroke="#8a8a8a" stroke-width="1.1" stroke-linejoin="round"/>
<path d="M46.4 154.67L46.83 154.67L47.27 154.67L47.7 154.67L48.13 154.67L48.57 154.67L49 154.67L49.43 154.67L49.87 154.67L50.3 154.67L50.73 154.67L51.17 154.67L51.6 154.67L52.03 154.67L52.47 154.67L52.9 154.67L53.33 154.46L53.77 153.95L54.2 152.79L54.63 150.64L55.07 146.9L55.5 143.18L55.93 139.57L56.37 137.69L56.8 136.18L57.23 136.55L57.67 137.3L58.1 139.26L58.53 139.06L58.97 142.33L59.4 142.43L59.83 144.3L60.27 147.94L60.7 148.32L61.13 148.76L61.57 149.38L62 150.65L62.43 151.21L62.87 151.54L63.3 151.06L63.73 152.18L64.17 152.32L64.6 153.14L65.03 153.43L65.47 153.77L65.9 154.3L66.33 154.58L66.77 154.67L67.2 154.67L67.63 154.67L68.07 154.67L68.5 154.67L68.93 154.67L69.37 154.67L69.8 154.67L70.23 154.67L70.67 154.67L71.1 154.67L71.53 154.67L71.97 154.67L72.4 154.67" fill="none" stroke="#000" stroke-width="1.6" stroke-linejoin="round"/>
<text x="41.9" y="133.9" class="t" font-size="2.6">8</text>
<text x="41.9" y="156" class="t" font-size="2.6">0</text>
<text x="45.4" y="159.2" class="t" font-size="2.6">10<tspan font-size="1.8" dy="-1">0</tspan></text>
<text x="69.4" y="159.2" class="t" font-size="2.6">10<tspan font-size="1.8" dy="-1">4</tspan></text>
<path d="M86.1 132.9H111.9" fill="none" stroke="#3a3a3a" stroke-width="0.8"/>
<path d="M111.9 132.9V155" fill="none" stroke="#bbb" stroke-width="0.8"/>
<path d="M86.1 132.9V155H111.9" fill="none" stroke="#111" stroke-width="1.2"/>
<path d="M86.1 154.67L86.42 154.67L86.74 154.67L87.07 154.67L87.39 154.67L87.71 154.67L88.03 154.37L88.36 153.63L88.68 152.31L89 150.21L89.32 147.27L89.65 143.69L89.97 139.99L90.29 136.93L90.61 135.26L90.94 135.22L91.26 135.91L91.58 137.14L91.91 138.82L92.23 140.81L92.55 142.94L92.87 145.07L93.19 147.08L93.52 148.88L93.84 150.42L94.16 151.68L94.48 152.67L94.81 153.42L95.13 153.96L95.45 154.34L95.78 154.59L96.1 154.67L96.42 154.67L96.74 154.67L97.06 154.67L97.39 154.67L97.71 154.67L98.03 154.67L98.36 154.67L98.68 154.67L99 154.67L99.32 154.67L99.64 154.67L99.97 154.67L100.29 154.67L100.61 154.67L100.94 154.67L101.26 154.67L101.58 154.67L101.9 154.67L102.22 154.67L102.55 154.67L102.87 154.67L103.19 154.67L103.52 154.67L103.84 154.67L104.16 154.67L104.48 154.67L104.81 154.67L105.13 154.67L105.45 154.67L105.77 154.67L106.09 154.67L106.42 154.67L106.74 154.67L107.06 154.67L107.39 154.67L107.71 154.67L108.03 154.67L108.35 154.67L108.68 154.67L109 154.67L109.32 154.67L109.64 154.67L109.97 154.67L110.29 154.67L110.61 154.67L110.93 154.67L111.26 154.67L111.58 154.67L111.9 154.67" fill="none" stroke="#8a8a8a" stroke-width="1.1" stroke-linejoin="round"/>
<path d="M86.1 154.67L86.53 154.67L86.96 154.67L87.39 154.67L87.82 154.67L88.25 154.67L88.68 154.67L89.11 154.67L89.54 154.67L89.97 154.67L90.4 154.44L90.83 154.11L91.26 153.19L91.69 152.46L92.12 151L92.55 150.01L92.98 149.73L93.41 147.69L93.84 148.02L94.27 148.9L94.7 149.03L95.13 147.92L95.56 147.43L95.99 146.64L96.42 145.67L96.85 144.25L97.28 144.17L97.71 143.21L98.14 145.31L98.57 143.99L99 144.21L99.43 146.3L99.86 145.09L100.29 146.19L100.72 146.44L101.15 148.46L101.58 148.96L102.01 149.58L102.44 149.33L102.87 150.59L103.3 151.45L103.73 151.91L104.16 152.52L104.59 153.08L105.02 153.39L105.45 153.35L105.88 153.87L106.31 153.91L106.74 154.24L107.17 154.4L107.6 154.54L108.03 154.65L108.46 154.67L108.89 154.67L109.32 154.67L109.75 154.67L110.18 154.67L110.61 154.67L111.04 154.67L111.47 154.67L111.9 154.67" fill="none" stroke="#000" stroke-width="1.6" stroke-linejoin="round"/>
<text x="81.6" y="133.9" class="t" font-size="2.6">8</text>
<text x="81.6" y="156" class="t" font-size="2.6">0</text>
<text x="85.1" y="159.2" class="t" font-size="2.6">10<tspan font-size="1.8" dy="-1">0</tspan></text>
<text x="108.9" y="159.2" class="t" font-size="2.6">10<tspan font-size="1.8" dy="-1">4</tspan></text>
<path d="M125.4 132.9H151.6" fill="none" stroke="#3a3a3a" stroke-width="0.8"/>
<path d="M151.6 132.9V155" fill="none" stroke="#bbb" stroke-width="0.8"/>
<path d="M125.4 132.9V155H151.6" fill="none" stroke="#111" stroke-width="1.2"/>
<path d="M125.4 154.67L125.73 154.67L126.06 154.67L126.38 154.67L126.71 154.67L127.04 154.67L127.37 154.67L127.69 154.67L128.02 154.67L128.35 154.29L128.68 153.1L129 150.7L129.33 146.82L129.66 141.93L129.99 137.45L130.31 135.18L130.64 135.38L130.97 136.46L131.3 138.22L131.62 140.46L131.95 142.94L132.28 145.42L132.6 147.71L132.93 149.69L133.26 151.3L133.59 152.53L133.91 153.42L134.24 154.03L134.57 154.43L134.9 154.67L135.22 154.67L135.55 154.67L135.88 154.67L136.21 154.67L136.53 154.67L136.86 154.67L137.19 154.67L137.52 154.67L137.84 154.67L138.17 154.67L138.5 154.67L138.83 154.67L139.16 154.67L139.48 154.67L139.81 154.67L140.14 154.67L140.47 154.67L140.79 154.67L141.12 154.67L141.45 154.67L141.78 154.67L142.1 154.67L142.43 154.67L142.76 154.67L143.09 154.67L143.41 154.67L143.74 154.67L144.07 154.67L144.39 154.67L144.72 154.67L145.05 154.67L145.38 154.67L145.7 154.67L146.03 154.67L146.36 154.67L146.69 154.67L147.01 154.67L147.34 154.67L147.67 154.67L148 154.67L148.32 154.67L148.65 154.67L148.98 154.67L149.31 154.67L149.63 154.67L149.96 154.67L150.29 154.67L150.62 154.67L150.94 154.67L151.27 154.67L151.6 154.67" fill="none" stroke="#8a8a8a" stroke-width="1.1" stroke-linejoin="round"/>
<path d="M125.4 154.67L125.84 154.67L126.27 154.67L126.71 154.67L127.15 154.67L127.58 154.67L128.02 154.67L128.46 154.67L128.89 154.56L129.33 154.09L129.77 153.08L130.2 151.12L130.64 149.32L131.08 146.62L131.51 143.76L131.95 143.56L132.39 143.81L132.82 144.59L133.26 144.55L133.7 145.18L134.13 146.75L134.57 147L135.01 148.95L135.44 147.94L135.88 148.77L136.32 148.41L136.75 148.77L137.19 149.55L137.63 150.12L138.06 148.88L138.5 150.43L138.94 150.22L139.37 150.74L139.81 151.15L140.25 150.96L140.68 151.02L141.12 151.94L141.56 151.64L141.99 151.95L142.43 151.54L142.87 151.46L143.3 151.44L143.74 151.17L144.18 150.88L144.61 149.77L145.05 150.34L145.49 150.85L145.92 150.18L146.36 150.43L146.8 151.46L147.23 152.18L147.67 152.55L148.11 153.03L148.54 153.26L148.98 153.74L149.42 153.98L149.85 154.18L150.29 154.4L150.73 154.58L151.16 154.67L151.6 154.67" fill="none" stroke="#000" stroke-width="1.6" stroke-linejoin="round"/>
<text x="120.9" y="133.9" class="t" font-size="2.6">8</text>
<text x="120.9" y="156" class="t" font-size="2.6">0</text>
<text x="124.4" y="159.2" class="t" font-size="2.6">10<tspan font-size="1.8" dy="-1">0</tspan></text>
<text x="148.6" y="159.2" class="t" font-size="2.6">10<tspan font-size="1.8" dy="-1">4</tspan></text>
<text x="155" y="37.2" class="b" font-size="5.3" textLength="15.3" lengthAdjust="spacingAndGlyphs">mDCs</text>
<text x="155" y="73.6" class="b" font-size="5.3" textLength="13.8" lengthAdjust="spacingAndGlyphs">DC<tspan font-size="3.6" dy="0.8">reg</tspan></text>
<text x="154.8" y="110.8" class="b" font-size="5.3" textLength="85.6" lengthAdjust="spacingAndGlyphs">CD11c<tspan font-size="3.2" dy="-1.6">low</tspan><tspan dy="1.6">CD45RB</tspan><tspan font-size="3.2" dy="-1.6">hi</tspan><tspan dy="1.6">DCs (Splenic)</tspan></text>
<text x="154.8" y="147" class="b" font-size="5.3" textLength="85" lengthAdjust="spacingAndGlyphs">CD11c<tspan font-size="3.2" dy="-1.6">low</tspan><tspan dy="1.6">CD45RB</tspan><tspan font-size="3.2" dy="-1.6">hi</tspan><tspan dy="1.6">DCs (In vitro)</tspan></text>
</g>
<g id="B">
<text x="286.35" y="9.25" class="pl" font-size="11.6">B</text>
<path d="M306.6 25.8V145.5H392.4" fill="none" stroke="#8a8a8a" stroke-width="0.7"/>
<path d="M305.4 145.5H306.6" stroke="#8a8a8a" stroke-width="0.6"/>
<text x="305" y="147.1" class="t" font-size="3.6" text-anchor="end">0</text>
<path d="M305.4 125.63H306.6" stroke="#8a8a8a" stroke-width="0.6"/>
<text x="305" y="127.23" class="t" font-size="3.6" text-anchor="end">500</text>
<path d="M305.4 105.77H306.6" stroke="#8a8a8a" stroke-width="0.6"/>
<text x="305" y="107.37" class="t" font-size="3.6" text-anchor="end">1000</text>
<path d="M305.4 85.9H306.6" stroke="#8a8a8a" stroke-width="0.6"/>
<text x="305" y="87.5" class="t" font-size="3.6" text-anchor="end">1500</text>
<path d="M305.4 66.03H306.6" stroke="#8a8a8a" stroke-width="0.6"/>
<text x="305" y="67.63" class="t" font-size="3.6" text-anchor="end">2000</text>
<path d="M305.4 46.17H306.6" stroke="#8a8a8a" stroke-width="0.6"/>
<text x="305" y="47.77" class="t" font-size="3.6" text-anchor="end">2500</text>
<path d="M305.4 26.3H306.6" stroke="#8a8a8a" stroke-width="0.6"/>
<text x="305" y="27.9" class="t" font-size="3.6" text-anchor="end">3000</text>
<path d="M315.5 134.77V133.98M313.29 133.98H317.71" stroke="#777" stroke-width="0.65"/>
<rect x="311" y="135.07" width="9" height="10.43" fill="#fff" stroke="#777" stroke-width="0.6"/>
<path d="M325.3 55.7V47.36M323 47.36H327.6" stroke="#777" stroke-width="0.65"/>
<rect x="320.3" y="55.7" width="10" height="89.8" fill="#000"/>
<path d="M344.2 136.36V135.96M341.99 135.96H346.41" stroke="#777" stroke-width="0.65"/>
<rect x="339.7" y="136.66" width="9" height="8.84" fill="#fff" stroke="#777" stroke-width="0.6"/>
<path d="M354.3 51.73V42.59M351.86 42.59H356.74" stroke="#777" stroke-width="0.65"/>
<rect x="349" y="51.73" width="10.6" height="93.77" fill="#000"/>
<path d="M373.2 137.75V137.35M370.95 137.35H375.45" stroke="#777" stroke-width="0.65"/>
<rect x="368.6" y="138.05" width="9.2" height="7.45" fill="#fff" stroke="#777" stroke-width="0.6"/>
<path d="M383 135.17V134.77M380.75 134.77H385.25" stroke="#777" stroke-width="0.65"/>
<rect x="378.1" y="135.17" width="9.8" height="10.33" fill="#000"/>
<text transform="translate(290.2 87.3) rotate(-90)" class="b" font-size="5.6" text-anchor="middle" textLength="38" lengthAdjust="spacingAndGlyphs">TNF-α (pg/mL)</text>
<text x="319.6" y="152" class="b" font-size="4.1" text-anchor="middle">Splenic</text>
<text x="349" y="152" class="b" font-size="4.1" text-anchor="middle">In vitro</text>
<text x="378.3" y="152" class="b" font-size="4.1" text-anchor="middle">DC<tspan font-size="3.2" dy="0.7">reg</tspan></text>
<path d="M311.2 154.2H358.6" stroke="#555" stroke-width="0.6"/>
<text x="311.9" y="159.9" class="b" font-size="4.1" textLength="45.6" lengthAdjust="spacingAndGlyphs">CD11c<tspan font-size="2.6" dy="-1.3">low</tspan><tspan dy="1.3">CD45RB</tspan><tspan font-size="2.6" dy="-1.3">hi</tspan><tspan dy="1.3">DCs</tspan></text>
<text x="378.85" y="134.78" class="b" font-size="10.4">*</text>
<text x="382.6" y="131.6" class="b" font-size="5">,</text>
<text x="384.28" y="133.11" class="b" font-size="7.26">†</text>
<rect x="365.1" y="44.6" width="2" height="2.2" fill="#fff" stroke="#666" stroke-width="0.5"/>
<text x="369.4" y="48.1" class="b" font-size="5.4">None</text>
<rect x="364.9" y="52.4" width="2.5" height="2.6" fill="#000"/>
<text x="369.4" y="56.1" class="b" font-size="5.4">LPS</text>
<path d="M433.2 25.3V146H519.5" fill="none" stroke="#8a8a8a" stroke-width="0.7"/>
<path d="M432 146H433.2" stroke="#8a8a8a" stroke-width="0.6"/>
<text x="431.6" y="147.6" class="t" font-size="3.6" text-anchor="end">0</text>
<path d="M432 121.96H433.2" stroke="#8a8a8a" stroke-width="0.6"/>
<text x="431.6" y="123.56" class="t" font-size="3.6" text-anchor="end">200</text>
<path d="M432 97.92H433.2" stroke="#8a8a8a" stroke-width="0.6"/>
<text x="431.6" y="99.52" class="t" font-size="3.6" text-anchor="end">400</text>
<path d="M432 73.88H433.2" stroke="#8a8a8a" stroke-width="0.6"/>
<text x="431.6" y="75.48" class="t" font-size="3.6" text-anchor="end">600</text>
<path d="M432 49.84H433.2" stroke="#8a8a8a" stroke-width="0.6"/>
<text x="431.6" y="51.44" class="t" font-size="3.6" text-anchor="end">800</text>
<path d="M432 25.8H433.2" stroke="#8a8a8a" stroke-width="0.6"/>
<text x="431.6" y="27.4" class="t" font-size="3.6" text-anchor="end">1000</text>
<path d="M442.3 130.37V126.17M440 126.17H444.6" stroke="#777" stroke-width="0.65"/>
<rect x="437.6" y="130.67" width="9.4" height="15.33" fill="#fff" stroke="#777" stroke-width="0.6"/>
<path d="M452.35 44.43V39.02M450.03 39.02H454.67" stroke="#777" stroke-width="0.65"/>
<rect x="447.3" y="44.43" width="10.1" height="101.57" fill="#000"/>
<path d="M471.1 130.61V128.21M468.85 128.21H473.35" stroke="#777" stroke-width="0.65"/>
<rect x="466.5" y="130.91" width="9.2" height="15.09" fill="#fff" stroke="#777" stroke-width="0.6"/>
<path d="M480.75 39.62V33.01M478.56 33.01H482.94" stroke="#777" stroke-width="0.65"/>
<rect x="476" y="39.62" width="9.5" height="106.38" fill="#000"/>
<path d="M499.9 126.77V121.36M497.6 121.36H502.2" stroke="#777" stroke-width="0.65"/>
<rect x="495.2" y="127.07" width="9.4" height="18.93" fill="#fff" stroke="#777" stroke-width="0.6"/>
<path d="M509.95 63.06V60.66M507.63 60.66H512.27" stroke="#777" stroke-width="0.65"/>
<rect x="504.9" y="63.06" width="10.1" height="82.94" fill="#000"/>
<text transform="translate(418 86.3) rotate(-90)" class="b" font-size="5.6" text-anchor="middle" textLength="36" lengthAdjust="spacingAndGlyphs">IL-10 (pg/mL)</text>
<text x="448.3" y="151.8" class="b" font-size="4.1" text-anchor="middle">Splenic</text>
<text x="476.7" y="151.8" class="b" font-size="4.1" text-anchor="middle">In vitro</text>
<text x="503" y="151.8" class="b" font-size="4.1" text-anchor="middle">DC<tspan font-size="3.2" dy="0.7">reg</tspan></text>
<path d="M435.3 154.4H484.3" stroke="#555" stroke-width="0.6"/>
<text x="437.6" y="160.1" class="b" font-size="4.1" textLength="46.5" lengthAdjust="spacingAndGlyphs">CD11c<tspan font-size="2.6" dy="-1.3">low</tspan><tspan dy="1.3">CD45RB</tspan><tspan font-size="2.6" dy="-1.3">hi</tspan><tspan dy="1.3">DCs</tspan></text>
<text x="505.05" y="59.54" class="b" font-size="10.13">*</text>
<text x="508.9" y="56.6" class="b" font-size="5">,</text>
<text x="510.64" y="57.87" class="b" font-size="6.37">†</text>
<rect x="491.6" y="37.0" width="2" height="2.2" fill="#fff" stroke="#666" stroke-width="0.5"/>
<text x="495.6" y="40.4" class="b" font-size="5.4">None</text>
<rect x="491.4" y="44.4" width="2.5" height="2.6" fill="#000"/>
<text x="495.6" y="47.8" class="b" font-size="5.4">LPS</text>
</g>
<g id="C">
<text x="-0.7" y="184.1" class="pl" font-size="11.6">C</text>
<path d="M20.1 188.4V309.5H120.1" fill="none" stroke="#8a8a8a" stroke-width="0.7"/>
<path d="M18.9 309.5H20.1" stroke="#8a8a8a" stroke-width="0.6"/>
<text x="18.5" y="311.1" class="t" font-size="3.6" text-anchor="end">0</text>
<path d="M18.9 285.38H20.1" stroke="#8a8a8a" stroke-width="0.6"/>
<text x="18.5" y="286.98" class="t" font-size="3.6" text-anchor="end">2000</text>
<path d="M18.9 261.26H20.1" stroke="#8a8a8a" stroke-width="0.6"/>
<text x="18.5" y="262.86" class="t" font-size="3.6" text-anchor="end">4000</text>
<path d="M18.9 237.14H20.1" stroke="#8a8a8a" stroke-width="0.6"/>
<text x="18.5" y="238.74" class="t" font-size="3.6" text-anchor="end">6000</text>
<path d="M18.9 213.02H20.1" stroke="#8a8a8a" stroke-width="0.6"/>
<text x="18.5" y="214.62" class="t" font-size="3.6" text-anchor="end">8000</text>
<path d="M18.9 188.9H20.1" stroke="#8a8a8a" stroke-width="0.6"/>
<text x="18.5" y="190.5" class="t" font-size="3.6" text-anchor="end">10000</text>
<path d="M32.45 214.23V208.8M28.29 208.8H36.61" stroke="#777" stroke-width="0.65"/>
<rect x="23.4" y="214.23" width="18.1" height="95.27" fill="#000"/>
<path d="M57.45 275.97V271.99M53.24 271.99H61.66" stroke="#777" stroke-width="0.65"/>
<rect x="48.3" y="275.97" width="18.3" height="33.53" fill="#000"/>
<path d="M82.45 277.9V273.08M78.29 273.08H86.61" stroke="#777" stroke-width="0.65"/>
<rect x="73.4" y="277.9" width="18.1" height="31.6" fill="#000"/>
<path d="M107.5 301.78V301.06M103.31 301.06H111.69" stroke="#777" stroke-width="0.65"/>
<rect x="98.4" y="301.78" width="18.2" height="7.72" fill="#000"/>
<text transform="translate(5.8 250.5) rotate(-90)" class="b" font-size="5.6" text-anchor="middle" textLength="37" lengthAdjust="spacingAndGlyphs">TNF-α (pg/mL)</text>
<text x="32.2" y="316" class="b" font-size="4.1" text-anchor="middle">Untreated</text>
<text x="57.8" y="316" class="b" font-size="4.1" text-anchor="middle">Splenic</text>
<text x="82.8" y="316" class="b" font-size="4.1" text-anchor="middle">In vitro</text>
<text x="107.6" y="316" class="b" font-size="4.1" text-anchor="middle">DC<tspan font-size="3.2" dy="0.7">reg</tspan></text>
<path d="M46.5 317.7H94.3" stroke="#555" stroke-width="0.6"/>
<text x="47.8" y="323.4" class="b" font-size="4.1" textLength="43.2" lengthAdjust="spacingAndGlyphs">CD11c<tspan font-size="2.6" dy="-1.3">low</tspan><tspan dy="1.3">CD45RB</tspan><tspan font-size="2.6" dy="-1.3">hi</tspan><tspan dy="1.3">DCs</tspan></text>
<text x="55.74" y="273" class="b" font-size="11.73">*</text>
<text x="80.75" y="272.39" class="b" font-size="10.14">*</text>
<text x="102.15" y="299.76" class="b" font-size="9.87">*</text>
<text x="105.9" y="297" class="b" font-size="5">,</text>
<text x="107.14" y="298.07" class="b" font-size="6.37">†</text>
<text x="110.8" y="297" class="b" font-size="5">,</text>
<text x="112.75" y="298.45" class="b" font-size="7.72">‡</text>
<path d="M147.2 188.7V310.5H247.5" fill="none" stroke="#8a8a8a" stroke-width="0.7"/>
<path d="M146 310.5H147.2" stroke="#8a8a8a" stroke-width="0.6"/>
<text x="145.6" y="312.1" class="t" font-size="3.6" text-anchor="end">0</text>
<path d="M146 290.28H147.2" stroke="#8a8a8a" stroke-width="0.6"/>
<text x="145.6" y="291.88" class="t" font-size="3.6" text-anchor="end">200</text>
<path d="M146 270.07H147.2" stroke="#8a8a8a" stroke-width="0.6"/>
<text x="145.6" y="271.67" class="t" font-size="3.6" text-anchor="end">400</text>
<path d="M146 249.85H147.2" stroke="#8a8a8a" stroke-width="0.6"/>
<text x="145.6" y="251.45" class="t" font-size="3.6" text-anchor="end">600</text>
<path d="M146 229.63H147.2" stroke="#8a8a8a" stroke-width="0.6"/>
<text x="145.6" y="231.23" class="t" font-size="3.6" text-anchor="end">800</text>
<path d="M146 209.42H147.2" stroke="#8a8a8a" stroke-width="0.6"/>
<text x="145.6" y="211.02" class="t" font-size="3.6" text-anchor="end">1000</text>
<path d="M146 189.2H147.2" stroke="#8a8a8a" stroke-width="0.6"/>
<text x="145.6" y="190.8" class="t" font-size="3.6" text-anchor="end">1200</text>
<path d="M159.35 290.79V289.37M155.14 289.37H163.56" stroke="#777" stroke-width="0.65"/>
<rect x="150.2" y="290.79" width="18.3" height="19.71" fill="#000"/>
<path d="M184.2 196.07V193.55M180.06 193.55H188.34" stroke="#777" stroke-width="0.65"/>
<rect x="175.2" y="196.07" width="18" height="114.43" fill="#000"/>
<path d="M209.25 200.02V197.49M205.09 197.49H213.41" stroke="#777" stroke-width="0.65"/>
<rect x="200.2" y="200.02" width="18.1" height="110.48" fill="#000"/>
<path d="M234.55 210.43V204.87M230.39 204.87H238.71" stroke="#777" stroke-width="0.65"/>
<rect x="225.5" y="210.43" width="18.1" height="100.07" fill="#000"/>
<text transform="translate(132.4 249.5) rotate(-90)" class="b" font-size="5.6" text-anchor="middle" textLength="35" lengthAdjust="spacingAndGlyphs">IL-10 (pg/mL)</text>
<text x="159" y="316.2" class="b" font-size="4.1" text-anchor="middle">Untreated</text>
<text x="184.1" y="316.2" class="b" font-size="4.1" text-anchor="middle">Splenic</text>
<text x="208.9" y="316.2" class="b" font-size="4.1" text-anchor="middle">In vitro</text>
<text x="234.4" y="316.2" class="b" font-size="4.1" text-anchor="middle">DC<tspan font-size="3.2" dy="0.7">reg</tspan></text>
<path d="M173.8 318.6H220.4" stroke="#555" stroke-width="0.6"/>
<text x="173.3" y="324.3" class="b" font-size="4.1" textLength="46.3" lengthAdjust="spacingAndGlyphs">CD11c<tspan font-size="2.6" dy="-1.3">low</tspan><tspan dy="1.3">CD45RB</tspan><tspan font-size="2.6" dy="-1.3">hi</tspan><tspan dy="1.3">DCs</tspan></text>
<text x="182.15" y="194.41" class="b" font-size="9.87">*</text>
<text x="207.76" y="197.57" class="b" font-size="8.8">*</text>
<text x="232.45" y="205.34" class="b" font-size="10.13">*</text>
</g>
<g id="D">
<text x="285.45" y="184.2" class="pl" font-size="11.6">D</text>
<path d="M302.3 200.6V309.6" stroke="#888" stroke-width="0.7"/>
<path d="M300.8 309.6H371.9" stroke="#888" stroke-width="0.7"/>
<path d="M301.1 309.6H302.3" stroke="#888" stroke-width="0.5"/>
<text x="300.6" y="310.8" class="t" font-size="3.4" text-anchor="end">0</text>
<path d="M301.1 287.9H302.3" stroke="#888" stroke-width="0.5"/>
<text x="300.6" y="289.1" class="t" font-size="3.4" text-anchor="end">20</text>
<path d="M301.1 266.2H302.3" stroke="#888" stroke-width="0.5"/>
<text x="300.6" y="267.4" class="t" font-size="3.4" text-anchor="end">40</text>
<path d="M301.1 244.5H302.3" stroke="#888" stroke-width="0.5"/>
<text x="300.6" y="245.7" class="t" font-size="3.4" text-anchor="end">60</text>
<path d="M301.1 222.8H302.3" stroke="#888" stroke-width="0.5"/>
<text x="300.6" y="224" class="t" font-size="3.4" text-anchor="end">80</text>
<path d="M301.1 201.1H302.3" stroke="#888" stroke-width="0.5"/>
<text x="300.6" y="202.3" class="t" font-size="3.4" text-anchor="end">100</text>
<path d="M302.3 309.6V310.8" stroke="#888" stroke-width="0.5"/>
<text x="302.3" y="315.6" class="t" font-size="3.6" text-anchor="middle">0</text>
<path d="M310.96 309.6V310.8" stroke="#888" stroke-width="0.5"/>
<text x="310.96" y="315.6" class="t" font-size="3.6" text-anchor="middle">6</text>
<path d="M319.62 309.6V310.8" stroke="#888" stroke-width="0.5"/>
<text x="319.62" y="315.6" class="t" font-size="3.6" text-anchor="middle">12</text>
<path d="M328.29 309.6V310.8" stroke="#888" stroke-width="0.5"/>
<text x="328.29" y="315.6" class="t" font-size="3.6" text-anchor="middle">18</text>
<path d="M336.95 309.6V310.8" stroke="#888" stroke-width="0.5"/>
<text x="336.95" y="315.6" class="t" font-size="3.6" text-anchor="middle">24</text>
<path d="M345.61 309.6V310.8" stroke="#888" stroke-width="0.5"/>
<text x="345.61" y="315.6" class="t" font-size="3.6" text-anchor="middle">30</text>
<path d="M354.28 309.6V310.8" stroke="#888" stroke-width="0.5"/>
<text x="354.28" y="315.6" class="t" font-size="3.6" text-anchor="middle">36</text>
<path d="M362.94 309.6V310.8" stroke="#888" stroke-width="0.5"/>
<text x="362.94" y="315.6" class="t" font-size="3.6" text-anchor="middle">42</text>
<path d="M371.6 309.6V310.8" stroke="#888" stroke-width="0.5"/>
<text x="371.6" y="315.6" class="t" font-size="3.6" text-anchor="middle">48</text>
<text x="300.6" y="323.6" class="b" font-size="4.1" textLength="73" lengthAdjust="spacingAndGlyphs">Time after injection of LPS/D-GalN (h)</text>
<text transform="translate(290.6 255.7) rotate(-90)" class="b" font-size="4.1" text-anchor="middle" textLength="23" lengthAdjust="spacingAndGlyphs">Survival (%)</text>
<path d="M302.3 201.1L349.7 201.1" stroke="#a8a8a8" stroke-width="1.05"/>
<path d="M323.7 222.8L371.4 222.8" stroke="#a8a8a8" stroke-width="1.05"/>
<path d="M336.6 244.5L345.7 244.5" stroke="#a8a8a8" stroke-width="1.05"/>
<path d="M341.4 266.2L371.8 266.2" stroke="#a8a8a8" stroke-width="1.05"/>
<path d="M313.9 201.1L313.9 309.6" stroke="#a8a8a8" stroke-width="1.05"/>
<path d="M323.7 201.1L323.7 222.8" stroke="#a8a8a8" stroke-width="1.05"/>
<path d="M328.3 201.1L328.3 222.8" stroke="#7a7a7a" stroke-width="1.05"/>
<path d="M332.4 201.1L332.4 222.8" stroke="#7a7a7a" stroke-width="1.05"/>
<path d="M336.6 222.8L336.6 244.5" stroke="#a8a8a8" stroke-width="1.05"/>
<path d="M341.4 222.8L341.4 266.2" stroke="#a8a8a8" stroke-width="1.05"/>
<path d="M345.7 222.8L345.7 266.2" stroke="#555" stroke-width="1.05"/>
<path d="M349.7 201.1L349.7 222.8" stroke="#a8a8a8" stroke-width="1.05"/>
<circle cx="302.3" cy="201.1" r="1.35" fill="#000"/>
<circle cx="313.9" cy="201.1" r="1.15" fill="#fff" stroke="#888" stroke-width="0.6"/>
<rect x="322.7" y="200.1" width="2" height="2" fill="#ccc" stroke="#999" stroke-width="0.4"/>
<circle cx="328.3" cy="201.1" r="1.35" fill="#000"/>
<path d="M332.4 199.6l1.4 2.4h-2.8z" fill="#000"/>
<circle cx="349.7" cy="201.1" r="1.15" fill="#fff" stroke="#888" stroke-width="0.6"/>
<rect x="322.7" y="221.8" width="2" height="2" fill="#ccc" stroke="#999" stroke-width="0.4"/>
<circle cx="328.3" cy="222.8" r="1.35" fill="#000"/>
<path d="M332.4 221.3l1.4 2.4h-2.8z" fill="#000"/>
<circle cx="336.6" cy="222.8" r="1.35" fill="#000"/>
<circle cx="341.4" cy="222.8" r="1.15" fill="#fff" stroke="#888" stroke-width="0.6"/>
<path d="M345.7 221.3l1.4 2.4h-2.8z" fill="#000"/>
<circle cx="349.7" cy="222.8" r="1.15" fill="#fff" stroke="#888" stroke-width="0.6"/>
<rect x="370.4" y="221.8" width="2" height="2" fill="#fff" stroke="#888" stroke-width="0.5"/>
<circle cx="336.6" cy="244.5" r="1.35" fill="#000"/>
<circle cx="345.7" cy="244.5" r="1.35" fill="#000"/>
<path d="M341.4 265l1.1 1.9h-2.2z" fill="#fff" stroke="#999" stroke-width="0.45"/>
<circle cx="345.7" cy="266.2" r="1.35" fill="#000"/>
<circle cx="371.8" cy="266.2" r="1.35" fill="#000"/>
<circle cx="313.9" cy="309.6" r="1.15" fill="#fff" stroke="#888" stroke-width="0.6"/>
<text x="366.55" y="220.66" class="b" font-size="9.87">*</text>
<text x="370.4" y="218.2" class="b" font-size="5">,</text>
<text x="371.86" y="218.8" class="b" font-size="7.52">†</text>
<text x="375.2" y="218.2" class="b" font-size="5">,</text>
<text x="377.06" y="218.76" class="b" font-size="7.59">‡</text>
<text x="380.2" y="218.2" class="b" font-size="5">,</text>
<text x="382.66" y="218.36" class="b" font-size="7.5">§</text>
<text x="370.97" y="264.42" class="b" font-size="5.07">*</text>
<circle cx="320.6" cy="276.7" r="1.15" fill="#fff" stroke="#888" stroke-width="0.6"/>
<text x="325" y="278.2" class="b" font-size="4.2" textLength="19.5" lengthAdjust="spacingAndGlyphs">Untreated</text>
<circle cx="320.6" cy="282.4" r="1.35" fill="#000"/>
<text x="325" y="283.9" class="b" font-size="4.2" textLength="65.4" lengthAdjust="spacingAndGlyphs">CD11c<tspan font-size="2.8" dy="-1.2">low</tspan><tspan dy="1.2">CD45RB</tspan><tspan font-size="2.8" dy="-1.2">hi</tspan><tspan dy="1.2">DCs (Splenic)</tspan></text>
<path d="M320.6 286.4l1.1 1.9h-2.2z" fill="#fff" stroke="#999" stroke-width="0.45"/>
<text x="325" y="289.1" class="b" font-size="4.2" textLength="65" lengthAdjust="spacingAndGlyphs">CD11c<tspan font-size="2.8" dy="-1.2">low</tspan><tspan dy="1.2">CD45RB</tspan><tspan font-size="2.8" dy="-1.2">hi</tspan><tspan dy="1.2">DCs (In vitro)</tspan></text>
<path d="M320.6 291.1l1.4 2.4h-2.8z" fill="#000"/>
<text x="325" y="294.1" class="b" font-size="4.2" textLength="9.6" lengthAdjust="spacingAndGlyphs">pDC<tspan font-size="3" dy="0.7">reg</tspan></text>
<rect x="319.6" y="296.8" width="2" height="2" fill="#fff" stroke="#888" stroke-width="0.5"/>
<text x="325" y="299.3" class="b" font-size="4.2" textLength="8.7" lengthAdjust="spacingAndGlyphs">DC<tspan font-size="3" dy="0.7">reg</tspan></text>
</g>
</svg>
</body></html>
